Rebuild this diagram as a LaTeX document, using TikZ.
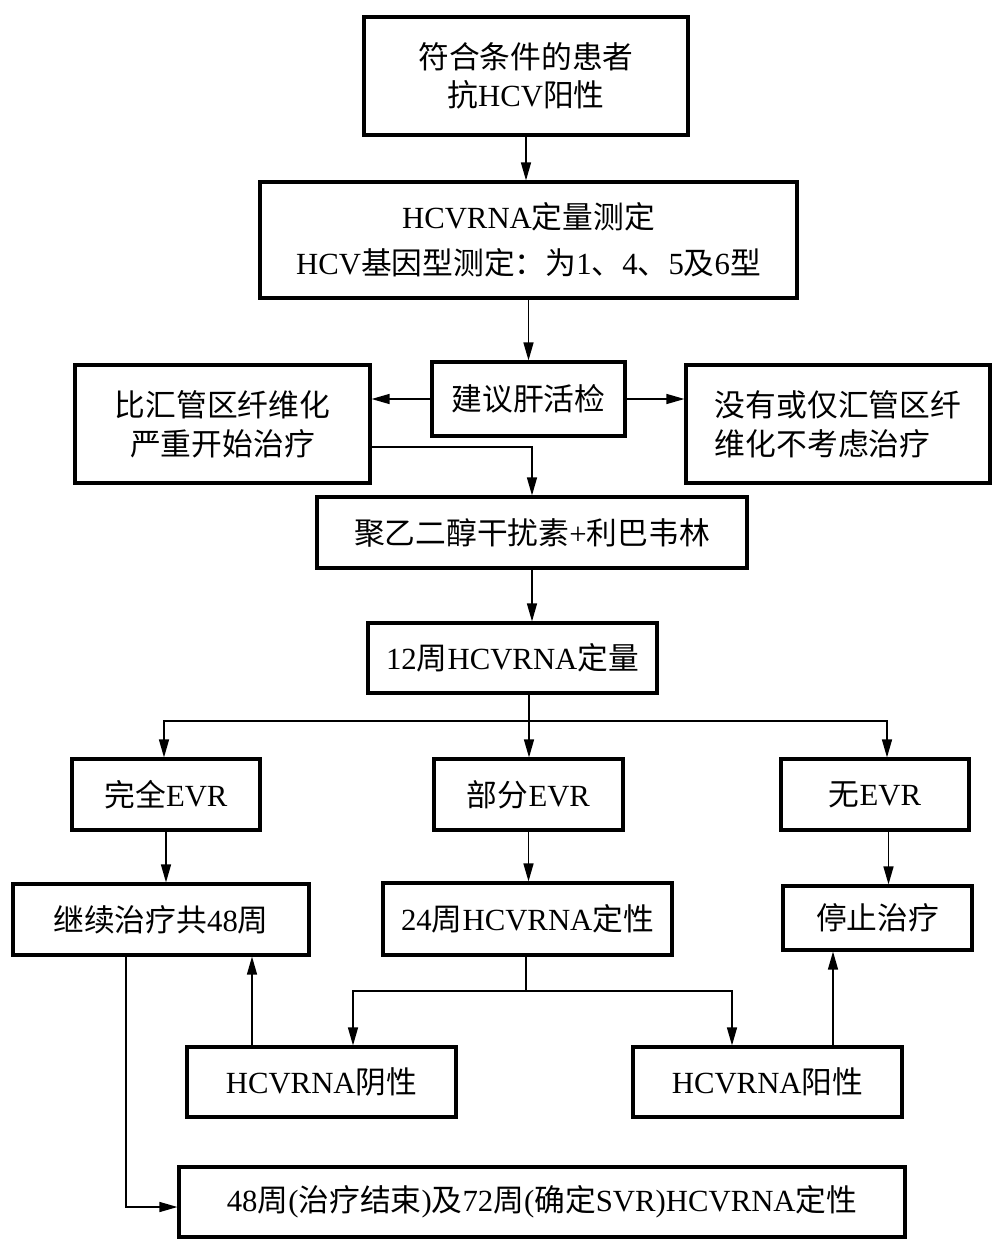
\documentclass[tikz,border=0pt]{standalone}
\usepackage{fontspec}
\setmainfont{Liberation Serif}
\newfontfamily\cjk{Noto Sans CJK SC}
\newcommand{\zh}[1]{{\cjk #1}}
\usetikzlibrary{positioning,arrows.meta,calc}

\begin{document}
\begin{tikzpicture}[
  >={Triangle[length=3.6mm,width=2.0mm]},
  every node/.style={font=\fontsize{17.5}{22}\selectfont, align=center},
  box/.style  ={draw=black, line width=1.8pt, inner sep=0pt},
  arr/.style  ={->, line width=0.8pt},
  link/.style ={line width=0.8pt},
]
\useasboundingbox (0,0) rectangle (20.02,-25.08);

%% ── Screening and work-up ─────────────────────────────────────────────
\node[box, minimum width=6.48cm, minimum height=2.36cm] (patient) at (10.52,-1.52)
  {\zh{符合条件的患者}\\\zh{抗}HCV\zh{阳性}};
\node[box, minimum width=10.74cm, minimum height=2.32cm] (test) at (10.57,-4.80)
  {HCVRNA\zh{定量测定}\\[4pt]HCV\zh{基因型测定：为}1\zh{、}4\zh{、}5\zh{及}6\zh{型}};
\node[box, minimum width=3.86cm, minimum height=1.48cm] (biopsy) at (10.57,-7.98)
  {\zh{建议肝活检}};
\node[box, minimum width=5.90cm, minimum height=2.36cm] (severe) at (4.45,-8.48)
  {\zh{比汇管区纤维化}\\\zh{严重开始治疗}};
\node[box, minimum width=6.08cm, minimum height=2.36cm, align=left] (mild) at (16.76,-8.48)
  {\zh{没有或仅汇管区纤}\\\zh{维化不考虑治疗}};

\draw[arr] (patient.south) -- (patient.south |- test.north);
\draw[arr] (test.south) -- (biopsy.north);
\draw[arr] (biopsy.west) -- (severe.east |- biopsy.west);
\draw[arr] (biopsy.east) -- (mild.west |- biopsy.east);

%% ── Treatment and week-12 check ───────────────────────────────────────
\node[box, minimum width=8.60cm, minimum height=1.42cm] (therapy) at (10.64,-10.65)
  {\zh{聚乙二醇干扰素}+\zh{利巴韦林}};
\node[box, minimum width=5.78cm, minimum height=1.40cm] (wk12) at (10.25,-13.16)
  {12\zh{周}HCVRNA\zh{定量}};

\draw[arr] ([yshift=-0.46cm]severe.east) -| (therapy.north);
\draw[arr] (therapy.south) -- (therapy.south |- wk12.north);

%% ── EVR outcome row ──────────────────────────────────────────────────
\node[box, minimum width=3.76cm, minimum height=1.42cm] (full)    at (3.32,-15.89)  {\zh{完全}EVR};
\node[box, minimum width=3.78cm, minimum height=1.42cm] (partial) at (10.57,-15.89) {\zh{部分}EVR};
\node[box, minimum width=3.76cm, minimum height=1.42cm] (none)    at (17.50,-15.89) {\zh{无}EVR};

\coordinate (split12) at (10.58,-14.42);
\draw[link] (wk12.south -| split12) -- (split12);
\draw[arr] (split12) -| ([xshift=-0.04cm]full.north);
\draw[arr] (split12) -- (split12 |- partial.north);
\draw[arr] (split12) -| ([xshift=0.24cm]none.north);

%% ── Follow-up row ────────────────────────────────────────────────────
\node[box, minimum width=5.92cm, minimum height=1.42cm] (cont48) at (3.22,-18.39)  {\zh{继续治疗共}48\zh{周}};
\node[box, minimum width=5.78cm, minimum height=1.44cm] (wk24)   at (10.55,-18.38) {24\zh{周}HCVRNA\zh{定性}};
\node[box, minimum width=3.78cm, minimum height=1.28cm] (stop)   at (17.55,-18.36) {\zh{停止治疗}};

\draw[arr] (full.south) -- (full.south |- cont48.north);
\draw[arr] (partial.south) -- (partial.south |- wk24.north);
\draw[arr] ([xshift=0.27cm]none.south) -- ([xshift=0.27cm]none.south |- stop.north);

%% ── Week-24 result ───────────────────────────────────────────────────
\node[box, minimum width=5.38cm, minimum height=1.40cm] (neg) at (6.43,-21.64)  {HCVRNA\zh{阴性}};
\node[box, minimum width=5.38cm, minimum height=1.40cm] (pos) at (15.35,-21.64) {HCVRNA\zh{阳性}};

\coordinate (split24) at (10.52,-19.82);
\draw[link] (wk24.south -| split24) -- (split24);
\draw[arr] (split24) -| ([xshift=0.63cm]neg.north);
\draw[arr] (split24) -| ([xshift=-0.71cm]pos.north);
\draw[arr] ([xshift=-1.39cm]neg.north) -- ([xshift=-1.39cm]neg.north |- cont48.south);
\draw[arr] ([xshift=1.31cm]pos.north) -- ([xshift=1.31cm]pos.north |- stop.south);

%% ── End of treatment ─────────────────────────────────────────────────
\node[box, minimum width=14.52cm, minimum height=1.40cm] (final) at (10.84,-24.04)
  {48\zh{周}(\zh{治疗结束})\zh{及}72\zh{周}(\zh{确定}SVR)HCVRNA\zh{定性}};

\draw[arr] ([xshift=-0.70cm]cont48.south) |- ([yshift=-0.10cm]final.west);

\end{tikzpicture}
\end{document}
